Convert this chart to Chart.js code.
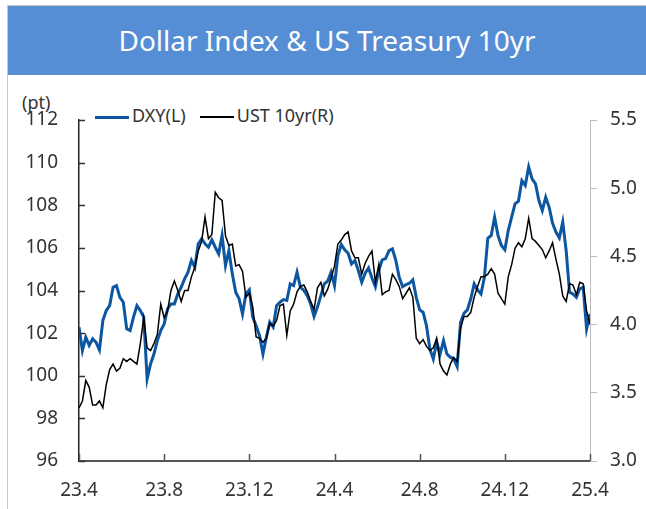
<!DOCTYPE html>
<html>
<head>
<meta charset="utf-8">
<script src="https://cdn.jsdelivr.net/npm/chart.js@4.4.1/dist/chart.umd.min.js"></script>
<style>
  body { margin: 0; background: #fff; font-family: "Noto Sans", sans-serif; }
  #wrap { position: relative; width: 646px; height: 509px; overflow: hidden; }
  #frame { position: absolute; left: 7px; top: 5px; width: 660px; height: 520px; border: 1px solid #c8c8c8; box-sizing: border-box; }
  #banner { position: absolute; left: 8px; top: 6px; width: 638px; height: 69px; background: #558ed5; color: #fff;
            font-size: 28px; text-align: center; line-height: 69px; }
  #unit { position: absolute; left: 22px; top: 90px; font-size: 18px; color: #333; }
  #legend { position: absolute; left: 95px; top: 103px; font-size: 18px; color: #333; white-space: nowrap; }
  #legend span.sw { display: inline-block; width: 34px; vertical-align: middle; margin-right: 3px; }
  #legend span.item { margin-right: 14px; }
  canvas { position: absolute; left: 0; top: 0; }
</style>
</head>
<body>
<div id="wrap">
  <div id="frame"></div>
  <div id="banner">Dollar Index &amp; US Treasury 10yr</div>
  <div id="unit">(pt)</div>
  <div id="legend">
    <span class="item"><span class="sw" style="height:3px;background:#0c56a2"></span>DXY(L)</span><span class="item"><span class="sw" style="height:1.5px;background:#000"></span>UST 10yr(R)</span>
  </div>
  <canvas id="chart" width="646" height="509"></canvas>
</div>
<script>
// x axis labels (yy.m), one every 4 months
const monthLabels = ['23.4', '23.8', '23.12', '24.4', '24.8', '24.12', '25.4'];

// Dollar index, left axis (pt)
const dxy = [
  102.28, 101.18, 101.81, 101.42, 101.73, 101.57, 101.21, 102.59, 103.06, 103.29,
  104.15, 104.23, 103.68, 103.45, 102.20, 102.12, 102.75, 103.29, 103.06, 102.75,
  99.85, 100.55, 101.02, 101.65, 102.12, 102.43, 103.14, 103.37, 103.37, 103.84,
  104.15, 104.55, 104.86, 105.41, 105.09, 106.19, 106.42, 106.19, 106.03, 106.38,
  106.03, 105.72, 106.58, 105.17, 105.87, 104.78, 103.92, 103.61, 102.90, 103.84,
  104.03, 102.75, 102.35, 101.88, 101.02, 101.81, 102.51, 102.28, 103.29, 103.45,
  103.57, 103.53, 104.31, 104.23, 104.86, 104.15, 104.00, 103.76, 103.37, 102.78,
  103.22, 103.76, 104.31, 104.44, 104.86, 104.23, 105.64, 106.16, 105.91, 105.75,
  105.25, 105.41, 104.94, 104.39, 104.81, 105.06, 104.59, 104.18, 104.94, 105.44,
  105.50, 105.87, 105.95, 105.41, 104.62, 104.18, 104.28, 104.34, 104.50, 103.68,
  103.09, 102.98, 102.35, 101.26, 100.79, 101.57, 101.02, 101.65, 101.02, 100.87,
  100.79, 100.43, 102.51, 102.93, 103.09, 103.61, 104.31, 104.03, 103.84, 104.62,
  106.45, 106.58, 107.44, 106.58, 106.11, 105.91, 106.81, 107.44, 108.07, 108.19,
  109.16, 108.93, 109.80, 109.24, 109.00, 108.22, 107.75, 108.38, 107.91, 107.16,
  106.74, 106.47, 107.21, 105.87, 103.92, 103.84, 103.68, 104.08, 104.15, 102.20, 102.90
];

// US Treasury 10yr yield, right axis (%)
const ust = [
  3.39, 3.44, 3.59, 3.54, 3.41, 3.41, 3.44, 3.39, 3.56, 3.67,
  3.71, 3.66, 3.68, 3.75, 3.73, 3.75, 3.73, 3.71, 3.86, 4.05,
  3.83, 3.81, 3.86, 3.93, 4.15, 4.05, 4.10, 4.25, 4.32, 4.25,
  4.17, 4.25, 4.25, 4.35, 4.42, 4.54, 4.61, 4.79, 4.63, 4.66,
  4.97, 4.93, 4.91, 4.65, 4.58, 4.59, 4.43, 4.44, 4.39, 4.20,
  4.23, 4.13, 3.91, 3.90, 3.87, 3.90, 4.01, 3.99, 4.03, 4.14,
  4.15, 3.92, 4.10, 4.15, 4.24, 4.28, 4.29, 4.24, 4.17, 4.11,
  4.27, 4.31, 4.21, 4.26, 4.34, 4.43, 4.59, 4.62, 4.66, 4.68,
  4.54, 4.49, 4.49, 4.37, 4.45, 4.50, 4.54, 4.31, 4.44, 4.22,
  4.24, 4.25, 4.37, 4.33, 4.28, 4.19, 4.23, 4.27, 4.20, 3.90,
  3.86, 3.89, 3.84, 3.81, 3.83, 3.90, 3.71, 3.66, 3.63, 3.71,
  3.76, 3.73, 3.97, 4.06, 4.06, 4.09, 4.20, 4.28, 4.35, 4.35,
  4.37, 4.41, 4.37, 4.23, 4.19, 4.15, 4.35, 4.44, 4.56, 4.60,
  4.57, 4.63, 4.78, 4.63, 4.61, 4.58, 4.55, 4.49, 4.54, 4.60,
  4.48, 4.37, 4.21, 4.17, 4.30, 4.29, 4.22, 4.31, 4.30, 4.10, 4.00
];

// samples are evenly spaced over 24 months
const step = 24 / (dxy.length - 1);
const toPoints = arr => arr.map((v, i) => ({ x: i * step, y: v }));

// tick marks pointing into the plot (left and bottom axes)
const innerTicks = {
  id: 'innerTicks',
  afterDraw(chart) {
    const { ctx, chartArea } = chart;
    const x = chart.scales.x, yL = chart.scales.yL;
    ctx.save();
    ctx.strokeStyle = '#333';
    ctx.lineWidth = 1.5;
    ctx.beginPath();
    yL.ticks.forEach((t, i) => {
      const py = Math.round(yL.getPixelForTick(i)) + 0.5;
      ctx.moveTo(chartArea.left, py);
      ctx.lineTo(chartArea.left + 6, py);
    });
    ctx.stroke();
    ctx.strokeStyle = '#555';
    ctx.beginPath();
    x.ticks.forEach((t, i) => {
      const px = Math.round(x.getPixelForTick(i)) + 0.5;
      ctx.moveTo(px, chartArea.bottom);
      ctx.lineTo(px, chartArea.bottom - 7);
    });
    ctx.stroke();
    ctx.restore();
  }
};

const tickFont = { family: '"Noto Sans", sans-serif', size: 19 };

new Chart(document.getElementById('chart'), {
  type: 'line',
  data: {
    datasets: [
      { label: 'DXY(L)', data: toPoints(dxy), yAxisID: 'yL', borderColor: '#0c56a2', borderWidth: 3,
        pointRadius: 0, tension: 0, order: 2 },
      { label: 'UST 10yr(R)', data: toPoints(ust), yAxisID: 'yR', borderColor: '#000', borderWidth: 1.5,
        pointRadius: 0, tension: 0, order: 1 }
    ]
  },
  options: {
    responsive: false,
    animation: false,
    layout: { padding: { top: 120, left: 0, right: 0, bottom: 0 } },
    plugins: { legend: { display: false }, tooltip: { enabled: false } },
    scales: {
      x: {
        type: 'linear', min: 0, max: 24,
        ticks: { stepSize: 4, color: '#333', font: tickFont, padding: 18, maxRotation: 0,
                 callback: v => monthLabels[v / 4] },
        grid: { drawOnChartArea: false, drawTicks: false },
        border: { color: '#555', width: 2 },
        afterFit: s => { s.height = 48; }
      },
      yL: {
        position: 'left', min: 96, max: 112,
        ticks: { stepSize: 2, color: '#333', font: tickFont, padding: 21 },
        grid: { drawOnChartArea: false, drawTicks: false },
        border: { color: '#222', width: 1.5 },
        afterFit: s => { s.width = 79; }
      },
      yR: {
        position: 'right', min: 3, max: 5.5,
        ticks: { stepSize: 0.5, color: '#333', font: tickFont, padding: 13, callback: v => v.toFixed(1) },
        grid: { drawOnChartArea: false, tickLength: 7, color: '#bbb' },
        border: { color: '#bbb', width: 1 },
        afterFit: s => { s.width = 56; }
      }
    }
  },
  plugins: [innerTicks]
});
</script>
</body>
</html>
